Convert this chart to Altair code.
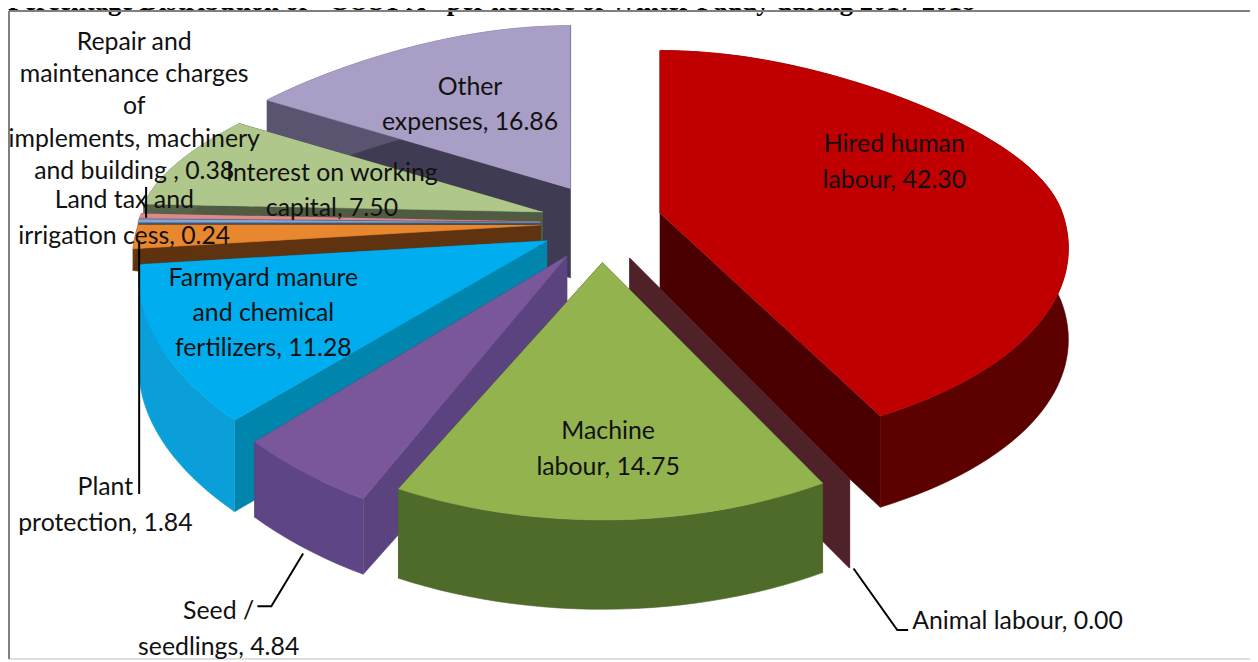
import math
import altair as alt
import pandas as pd

# ---- chart data ------------------------------------------------------
categories = ["Hired human labour", "Animal labour", "Machine labour", "Seed / seedlings",
              "Farmyard manure and chemical fertilizers", "Plant protection",
              "Land tax and irrigation cess",
              "Repair and maintenance charges of implements, machinery and building",
              "Interest on working capital", "Other expenses"]
values = [42.30, 0.00, 14.75, 4.84, 11.28, 1.84, 0.24, 0.38, 7.50, 16.86]
top_colors = ["#c00000", "#5a2a30", "#93b34f", "#79579a", "#00aeef", "#e8872e", "#7fa8d8", "#d98a8a", "#b0c78c", "#a99fc6"]
rim_colors = ["#5c0000", "#5a2a30", "#4f6b2a", "#5e4585", "#0a9fd8", "#6b3a12", "#4a6080", "#8a5a5a", "#55634a", "#5a5470"]
cut_colors = ["#4a0000", "#4f2229", "#45601f", "#5b437f", "#0085ad", "#5f3310", "#405570", "#7a4f4f", "#4f5c42", "#3f3b52"]
lower_squash = [0.88, 0.97, 0.97, 1.05, 1.0, 1.0, 1.0, 1.0, 1.0, 1.0]
slice_depth = [92, 90, 90, 76, 92, 22, 12, 12, 60, 90]
draw_order = [9, 8, 7, 6, 5, 4, 3, 0, 1, 2]

labels = ["Hired human\nlabour, 42.30", "Animal labour, 0.00", "Machine\nlabour, 14.75", "Seed /\nseedlings, 4.84",
          "Farmyard manure\nand chemical\nfertilizers, 11.28", "Plant\nprotection, 1.84",
          "Land tax and\nirrigation cess, 0.24",
          "Repair and\nmaintenance charges\nof\nimplements, machinery\nand building , 0.38",
          "Interest on working\ncapital, 7.50", "Other\nexpenses, 16.86"]
label_x = [900, 1024, 612, 220, 265, 106, 125, 135, 334, 473]
label_y = [143, 623, 432, 613, 278, 488, 199, 40, 172, 85]
label_gap = [36, 36, 36, 36, 35, 36, 36, 32.5, 35, 36]

title_text = 'Percentage Distribution of "COST A" per hectare of Winter Paddy during 2017-2018'
leader_lines = {
    "plant": [(140, 240), (140, 495)],
    "land": [(147, 186), (147, 217)],
    "seed": [(305, 555), (273, 608), (259, 608)],
    "animal": [(859, 570), (903, 632), (914, 632)],
}

# ---- perspective view of an exploded pie ------------------------------
CX, CY, A, B, K, KX, KX_FAR, PULL_X, PULL_Y = 605, 222, 405, 203, 0.24, 0.17, 0.305, 61, 40


def local(u, v, squash):
    d = 1 + KX * v + (KX_FAR * v * v if v > 0 else 0)
    y = -B * v / (1 + K * v)
    return A * u / d, y * (1 + (squash - 1) * (-v) if v < 0 else 1)


rows = []


def add(poly, pts, color):
    for i, (x, y) in enumerate(pts):
        rows.append({"poly": poly, "i": i, "x": x, "y": y, "color": color})


total = sum(values)
starts = [sum(values[:i]) / total * 2 * math.pi for i in range(len(values))]
for n in draw_order:
    a0 = starts[n]
    a1 = a0 + values[n] / total * 2 * math.pi
    mid = (a0 + a1) / 2
    ax, ay = CX + PULL_X * math.sin(mid), CY - PULL_Y * math.cos(mid)
    steps = max(2, int(values[n] * 2))
    arc = [a0 + (a1 - a0) * s / steps for s in range(steps + 1)]
    rim = []
    for t in arc:
        lx, ly = local(math.sin(t), math.cos(t), lower_squash[n])
        rim.append((ax + lx, ay + ly))
    depth = slice_depth[n]
    low = lambda p: (p[0], p[1] + depth)
    apex = (ax, ay)
    for name, edge in (("s", rim[0]), ("e", rim[-1])):
        add(f"{n:02d}{name}", [apex, edge, low(edge), (ax, ay + 90)], cut_colors[n])
    add(f"{n:02d}r", rim + [low(p) for p in reversed(rim)], rim_colors[n])
    add(f"{n:02d}t", [apex] + rim, top_colors[n])

pieces = pd.DataFrame(rows)

xs = alt.Scale(domain=[8, 1258], range=[0, 1250])
ys = alt.Scale(domain=[8, 662], range=[0, 654])
X = alt.X("x:Q", scale=xs, axis=None)
Y = alt.Y("y:Q", scale=ys, axis=None)

pie = alt.Chart(pieces).mark_line(strokeWidth=0.6).encode(
    x=X, y=Y, detail="poly:N", order="i:Q",
    fill=alt.Fill("color:N", scale=None), stroke=alt.Stroke("color:N", scale=None),
)

leaders = pd.DataFrame([{"id": k, "i": i, "x": p[0], "y": p[1]} for k, pts in leader_lines.items() for i, p in enumerate(pts)])
leader = alt.Chart(leaders).mark_line(color="black", strokeWidth=2).encode(x=X, y=Y, detail="id:N", order="i:Q")

line_rows = []
for lab, lx, ly, gap in zip(labels, label_x, label_y, label_gap):
    for j, part in enumerate(lab.split("\n")):
        line_rows.append({"label": part, "x": lx, "y": ly + j * gap})
text = alt.Chart(pd.DataFrame(line_rows)).mark_text(
    font="Lato", fontSize=25, align="center", baseline="middle", color="#111111"
).encode(x=X, y=Y, text="label:N")

frame = pd.DataFrame({"id": ["t", "t", "l", "l"], "i": [0, 1, 0, 1],
                      "x": [9, 1258, 9, 9], "y": [9, 9, 9, 661]})
border = alt.Chart(frame).mark_line(color="#808080", strokeWidth=2).encode(x=X, y=Y, detail="id:N", order="i:Q")
foot = pd.DataFrame({"x": [9, 1258], "y": [661, 661], "i": [0, 1]})
base_line = alt.Chart(foot).mark_line(color="#d4d4d4", strokeWidth=1.5).encode(x=X, y=Y, order="i:Q")

title = alt.Chart(pd.DataFrame({"t": [title_text], "x": [8], "y": [8]})).mark_text(
    font="Liberation Serif", fontSize=26.8, fontWeight="bold", align="left", baseline="alphabetic", color="black"
).encode(x=X, y=Y, text="t:N")

chart = alt.layer(title, base_line, border, pie, leader, text).properties(
    width=1250, height=654, padding=0, autosize=alt.AutoSizeParams(type="none")
).configure_view(stroke=None)

chart.save("out.html", embed_options={"renderer": "svg", "actions": False})
